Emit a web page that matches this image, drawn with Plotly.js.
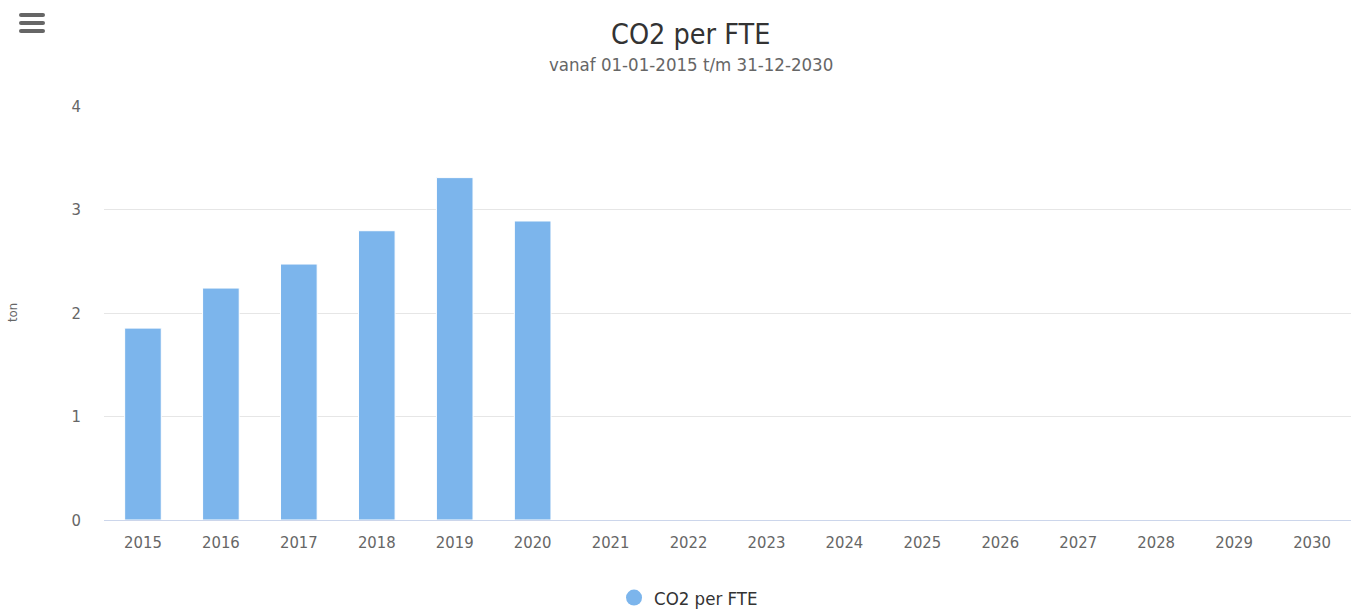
<!DOCTYPE html>
<html>
<head>
<meta charset="utf-8">
<script src="https://cdn.plot.ly/plotly-3.0.1.min.js"></script>
<style>
  html, body { margin: 0; padding: 0; background: #ffffff; }
  #chart { width: 1351px; height: 609px; position: relative; }
  #menu { position: absolute; left: 19px; top: 13px; width: 26px; height: 21px; z-index: 10; }
  #menu span { display: block; height: 4px; background: #666666; border-radius: 2px; margin-bottom: 4px; }
</style>
</head>
<body>
<div id="chart"></div>
<div id="menu"><span></span><span></span><span></span></div>
<script>
const years = ['2015','2016','2017','2018','2019','2020','2021','2022','2023','2024','2025','2026','2027','2028','2029','2030'];
const co2PerFte = [1.854, 2.241, 2.473, 2.795, 3.308, 2.889, null, null, null, null, null, null, null, null, null, null];
const seriesName = 'CO2 per FTE';
const chartTitle = 'CO2 per FTE';
const chartSubtitle = 'vanaf 01-01-2015 t/m 31-12-2030';
const yTitle = 'ton';
const yTicks = [0, 1, 2, 3, 4];

const FONT = '"DejaVu Sans Condensed", "DejaVu Sans", sans-serif';
const barColor = '#7cb5ec';

const traces = [
  {
    type: 'bar',
    x: years,
    y: co2PerFte,
    name: seriesName,
    showlegend: false,
    marker: { color: barColor, line: { color: '#ffffff', width: 1 } },
    hoverinfo: 'x+y'
  },
  {
    type: 'scatter',
    mode: 'markers',
    x: [null],
    y: [null],
    name: seriesName,
    showlegend: true,
    marker: { color: barColor, symbol: 'circle', size: 17 },
    hoverinfo: 'skip'
  }
];

const layout = {
  width: 1351,
  height: 609,
  paper_bgcolor: '#ffffff',
  plot_bgcolor: '#ffffff',
  font: { family: FONT, color: '#666666', size: 16.5 },
  margin: { l: 104, r: 0, t: 106, b: 89, pad: 0, autoexpand: false },
  bargap: 0.53,
  xaxis: {
    type: 'category',
    showgrid: false,
    showline: true,
    linecolor: '#ccd6eb',
    linewidth: 1,
    ticks: '',
    ticklabelstandoff: 7,
    tickfont: { family: FONT, size: 16.5, color: '#666666' },
    fixedrange: true
  },
  yaxis: {
    range: [0, 4],
    tickvals: yTicks,
    showgrid: true,
    gridcolor: '#e6e6e6',
    gridwidth: 1,
    zeroline: false,
    showline: false,
    ticks: '',
    ticklabelstandoff: 22,
    tickfont: { family: FONT, size: 16.5, color: '#666666' },
    fixedrange: true
  },
  legend: {
    orientation: 'h',
    xref: 'container', x: 0.4545, xanchor: 'left',
    yref: 'container', y: 0.018, yanchor: 'middle',
    font: { family: FONT, size: 18.5, color: '#333333' },
    bgcolor: 'rgba(0,0,0,0)'
  },
  annotations: [
    {
      text: chartTitle,
      xref: 'paper', yref: 'paper',
      x: 0.4707, y: 1.1739,
      xanchor: 'center', yanchor: 'middle',
      showarrow: false,
      font: { family: FONT, size: 28.5, color: '#333333' }
    },
    {
      text: chartSubtitle,
      xref: 'paper', yref: 'paper',
      x: 0.4707, y: 1.1014,
      xanchor: 'center', yanchor: 'middle',
      showarrow: false,
      font: { family: FONT, size: 18.5, color: '#666666' }
    },
    {
      text: yTitle,
      xref: 'paper', yref: 'paper',
      x: 0, y: 0.5,
      xanchor: 'center', yanchor: 'middle',
      xshift: -92,
      textangle: -90,
      showarrow: false,
      font: { family: FONT, size: 13, color: '#666666' }
    }
  ],
  showlegend: true,
  hovermode: 'closest'
};

Plotly.newPlot('chart', traces, layout, { displayModeBar: false, responsive: false });
</script>
</body>
</html>
